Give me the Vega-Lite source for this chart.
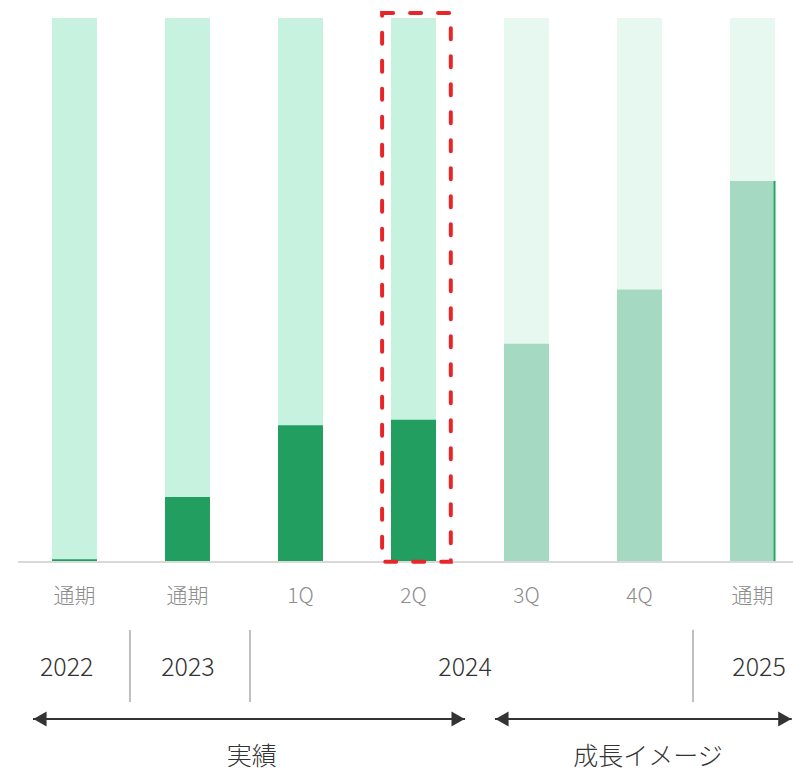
{
  "$schema": "https://vega.github.io/schema/vega-lite/v6.json",
  "width": 793,
  "height": 772,
  "autosize": "none",
  "padding": 0,
  "background": "white",
  "config": {"view": {"stroke": null}, "text": {"font": "Noto Sans CJK JP"}},
  "datasets": {
    "bars": [
      {"i": 0, "period": "通期", "value": 0.003},
      {"i": 1, "period": "通期", "value": 0.118},
      {"i": 2, "period": "1Q", "value": 0.25},
      {"i": 3, "period": "2Q", "value": 0.26},
      {"i": 4, "period": "3Q", "value": 0.40},
      {"i": 5, "period": "4Q", "value": 0.50},
      {"i": 6, "period": "通期", "value": 0.70}
    ],
    "years": [
      {"year": "2022", "pos": -0.069},
      {"year": "2023", "pos": 1.004},
      {"year": "2024", "pos": 3.456},
      {"year": "2025", "pos": 6.058}
    ],
    "seps": [
      {"pos": 0.491},
      {"pos": 1.553},
      {"pos": 5.473}
    ],
    "spans": [
      {"label": "実績", "from": -0.367, "to": 3.456, "mid": 1.568},
      {"label": "成長イメージ", "from": 3.721, "to": 6.347, "mid": 5.075}
    ],
    "one": [{"k": 1}]
  },
  "layer": [
    {
      "data": {"name": "bars"},
      "mark": {"type": "bar", "orient": "vertical", "size": 45},
      "encoding": {
        "x": {"field": "i", "type": "quantitative", "scale": {"domain": [-0.659, 6.358], "nice": false, "zero": false, "padding": 0}, "axis": null},
        "y": {"datum": 1, "type": "quantitative", "scale": {"domain": [-0.3886, 1.0331], "nice": false, "zero": false, "padding": 0}, "axis": null},
        "y2": {"datum": 0},
        "color": {"condition": {"test": "datum.i >= 4", "value": "#e6f8f0"}, "value": "#c8f2e0"}
      }
    },
    {
      "data": {"name": "bars"},
      "mark": {"type": "bar", "orient": "vertical", "size": 45},
      "encoding": {
        "x": {"field": "i", "type": "quantitative"},
        "y": {"field": "value", "type": "quantitative"},
        "y2": {"datum": 0},
        "color": {"condition": {"test": "datum.i >= 4", "value": "#a6d9c1"}, "value": "#229e60"}
      }
    },
    {
      "data": {"name": "bars"},
      "transform": [{"filter": "datum.i == 6"}],
      "mark": {"type": "rule", "color": "#2aa66a", "strokeWidth": 2, "xOffset": 22},
      "encoding": {
        "x": {"field": "i", "type": "quantitative"},
        "y": {"field": "value", "type": "quantitative"},
        "y2": {"datum": 0}
      }
    },
    {
      "data": {"name": "one"},
      "mark": {"type": "rule", "color": "#d9d9d9", "strokeWidth": 2},
      "encoding": {
        "x": {"datum": -0.5, "type": "quantitative"},
        "x2": {"datum": 6.358},
        "y": {"datum": -0.002, "type": "quantitative"}
      }
    },
    {
      "data": {"name": "one"},
      "mark": {"type": "rect", "fillOpacity": 0, "fill": "white", "stroke": "#e8262a", "strokeWidth": 4, "strokeDash": [11, 17], "strokeCap": "round"},
      "encoding": {
        "x": {"datum": 2.722, "type": "quantitative"},
        "x2": {"datum": 3.330},
        "y": {"datum": 1.0092, "type": "quantitative"},
        "y2": {"datum": -0.0013}
      }
    },
    {
      "data": {"name": "bars"},
      "mark": {"type": "text", "fontSize": 21, "color": "#8c8c8c", "baseline": "middle", "align": "center", "fontWeight": 300},
      "encoding": {
        "x": {"field": "i", "type": "quantitative"},
        "y": {"datum": -0.0663, "type": "quantitative"},
        "text": {"field": "period"}
      }
    },
    {
      "data": {"name": "years"},
      "mark": {"type": "text", "fontSize": 25, "color": "#333333", "baseline": "middle", "align": "center", "fontWeight": 300},
      "encoding": {
        "x": {"field": "pos", "type": "quantitative"},
        "y": {"datum": -0.1965, "type": "quantitative"},
        "text": {"field": "year"}
      }
    },
    {
      "data": {"name": "seps"},
      "mark": {"type": "rule", "color": "#bfbfbf", "strokeWidth": 2},
      "encoding": {
        "x": {"field": "pos", "type": "quantitative"},
        "y": {"datum": -0.127, "type": "quantitative"},
        "y2": {"datum": -0.2597}
      }
    },
    {
      "data": {"name": "spans"},
      "mark": {"type": "rule", "color": "#333333", "strokeWidth": 2},
      "encoding": {
        "x": {"field": "from", "type": "quantitative"},
        "x2": {"field": "to"},
        "y": {"datum": -0.291, "type": "quantitative"}
      }
    },
    {
      "data": {"name": "spans"},
      "mark": {"type": "point", "shape": "triangle-left", "filled": true, "color": "#333333", "size": 230, "opacity": 1, "xOffset": 7},
      "encoding": {
        "x": {"field": "from", "type": "quantitative"},
        "y": {"datum": -0.291, "type": "quantitative"}
      }
    },
    {
      "data": {"name": "spans"},
      "mark": {"type": "point", "shape": "triangle-right", "filled": true, "color": "#333333", "size": 230, "opacity": 1, "xOffset": -7},
      "encoding": {
        "x": {"field": "to", "type": "quantitative"},
        "y": {"datum": -0.291, "type": "quantitative"}
      }
    },
    {
      "data": {"name": "spans"},
      "mark": {"type": "text", "fontSize": 25, "color": "#333333", "baseline": "middle", "align": "center", "fontWeight": 300},
      "encoding": {
        "x": {"field": "mid", "type": "quantitative"},
        "y": {"datum": -0.3605, "type": "quantitative"},
        "text": {"field": "label"}
      }
    }
  ]
}
